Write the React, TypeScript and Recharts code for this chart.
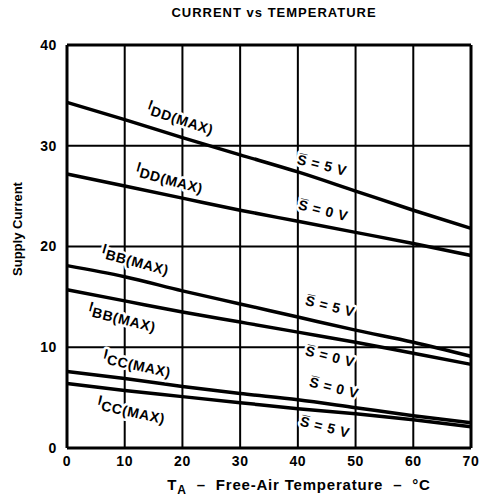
import React from "react";
import {
  LineChart,
  Line,
  XAxis,
  YAxis,
  CartesianGrid,
  ReferenceLine,
  ReferenceDot,
} from "recharts";

// temperature (°C) and supply current readings
const temps = [0, 10, 20, 30, 40, 50, 60, 70];
const iddS5 = [34.3, 32.6, 30.8, 29.1, 27.4, 25.5, 23.6, 21.8];
const iddS0 = [27.2, 26.0, 24.8, 23.6, 22.5, 21.4, 20.3, 19.1];
const ibbS5 = [18.1, 17.0, 15.6, 14.3, 13.0, 11.7, 10.5, 9.1];
const ibbS0 = [15.7, 14.6, 13.5, 12.5, 11.5, 10.5, 9.4, 8.3];
const iccS0 = [7.6, 6.9, 6.1, 5.4, 4.8, 4.0, 3.2, 2.5];
const iccS5 = [6.4, 5.7, 5.1, 4.5, 3.9, 3.4, 2.8, 2.1];

const xTicks = [0, 10, 20, 30, 40, 50, 60, 70];
const yTicks = [0, 10, 20, 30, 40];

const seriesKeys = ["iddS5", "iddS0", "ibbS5", "ibbS0", "iccS0", "iccS5"];

// curve labels: [x, y, main, sub, angle]
const curveLabels: [number, number, string, string, number][] = [
  [19.6, 32.6, "I", "DD(MAX)", 18],
  [17.7, 26.6, "I", "DD(MAX)", 15],
  [11.8, 18.5, "I", "BB(MAX)", 15],
  [9.5, 12.8, "I", "BB(MAX)", 14],
  [12.1, 8.2, "I", "CC(MAX)", 12],
  [11.1, 3.6, "I", "CC(MAX)", 12],
];

const switchLabels: [number, number, string][] = [
  [44.2, 28.1, "5"],
  [44.4, 23.6, "0"],
  [45.6, 14.1, "5"],
  [45.6, 9.1, "0"],
  [46.3, 6.0, "0"],
  [44.7, 2.1, "5"],
];

const data = temps.map((t, i) => ({
  t,
  iddS5: iddS5[i],
  iddS0: iddS0[i],
  ibbS5: ibbS5[i],
  ibbS0: ibbS0[i],
  iccS0: iccS0[i],
  iccS5: iccS5[i],
}));

const FONT = "'Liberation Sans', Arial, Helvetica, sans-serif";

const haloProps = {
  stroke: "#fff",
  strokeWidth: 5,
  paintOrder: "stroke" as const,
  strokeLinejoin: "round" as const,
};

const CurveLabel = (main: string, sub: string, angle: number) => (props: any) => {
  const { cx, cy } = props;
  return (
    <text
      x={cx}
      y={cy}
      textAnchor="middle"
      transform={`rotate(${angle}, ${cx}, ${cy})`}
      fontFamily={FONT}
      fontWeight="bold"
      fontSize={14}
      letterSpacing={0.6}
      fill="#000"
      {...haloProps}
    >
      <tspan>{main}</tspan>
      <tspan dy={5}>{sub}</tspan>
    </text>
  );
};

const SwitchLabel = (v: string) => (props: any) => {
  const { cx, cy } = props;
  return (
    <text
      x={cx}
      y={cy + 5}
      textAnchor="middle"
      transform={`rotate(14, ${cx}, ${cy})`}
      fontFamily={FONT}
      fontWeight="bold"
      fontSize={14}
      letterSpacing={0.6}
      fill="#000"
      {...haloProps}
    >
      {"S\u0305  =  " + v + " V"}
    </text>
  );
};

export default function App() {
  return (
    <div style={{ position: "absolute", left: 0, top: 0, width: 485, height: 504, background: "#fff" }}>
      <div
        style={{
          position: "absolute",
          left: 0,
          width: 548,
          top: 5,
          textAlign: "center",
          fontFamily: FONT,
          fontWeight: "bold",
          fontSize: 13,
          letterSpacing: 1,
          whiteSpace: "nowrap",
        }}
      >
        CURRENT vs TEMPERATURE
      </div>
      <div
        style={{
          position: "absolute",
          left: 17,
          top: 229,
          transform: "translate(-50%, -50%) rotate(-90deg)",
          whiteSpace: "nowrap",
          fontFamily: FONT,
          fontWeight: "bold",
          fontSize: 13,
        }}
      >
        Supply Current
      </div>
      <div
        style={{
          position: "absolute",
          left: 0,
          width: 598,
          top: 476,
          textAlign: "center",
          fontFamily: FONT,
          fontWeight: "bold",
          fontSize: 15,
          letterSpacing: 0.8,
          whiteSpace: "nowrap",
        }}
      >
        T<sub style={{ fontSize: 12 }}>A</sub>&nbsp;&nbsp;–&nbsp;&nbsp;Free-Air Temperature&nbsp;&nbsp;–&nbsp;&nbsp;°C
      </div>
      <LineChart
        width={485}
        height={504}
        data={data}
        margin={{ top: 45, right: 14, left: 7, bottom: 26 }}
        style={{ position: "absolute", left: 0, top: 0 }}
      >
        <CartesianGrid stroke="#000" strokeWidth={2} horizontalValues={[10, 20, 30]} verticalValues={[10, 20, 30, 40, 50, 60]} />
        <XAxis
          dataKey="t"
          type="number"
          domain={[0, 70]}
          ticks={xTicks}
          height={30}
          tickLine={false}
          axisLine={{ stroke: "#000", strokeWidth: 3 }}
          tick={{ fontSize: 14, fontWeight: "bold", fill: "#000", fontFamily: FONT, letterSpacing: 0.6 }}
        />
        <YAxis
          type="number"
          domain={[0, 40]}
          ticks={yTicks}
          width={60}
          tickLine={false}
          tickMargin={4}
          axisLine={{ stroke: "#000", strokeWidth: 3 }}
          tick={{ fontSize: 14, fontWeight: "bold", fill: "#000", fontFamily: FONT, letterSpacing: 0.6 }}
        />
        <ReferenceLine y={40} stroke="#000" strokeWidth={3} />
        <ReferenceLine x={70} stroke="#000" strokeWidth={3} />
        {curveLabels.map(([x, y, main, sub, a], i) => (
          <ReferenceDot key={"c" + i} x={x} y={y} r={1} shape={CurveLabel(main, sub, a)} />
        ))}
        {switchLabels.map(([x, y, v], i) => (
          <ReferenceDot key={"s" + i} x={x} y={y} r={1} shape={SwitchLabel(v)} />
        ))}
        {seriesKeys.map((k) => (
          <Line
            key={k}
            type="monotone"
            dataKey={k}
            stroke="#000"
            strokeWidth={3.5}
            dot={false}
            activeDot={false}
            isAnimationActive={false}
          />
        ))}
      </LineChart>
    </div>
  );
}
